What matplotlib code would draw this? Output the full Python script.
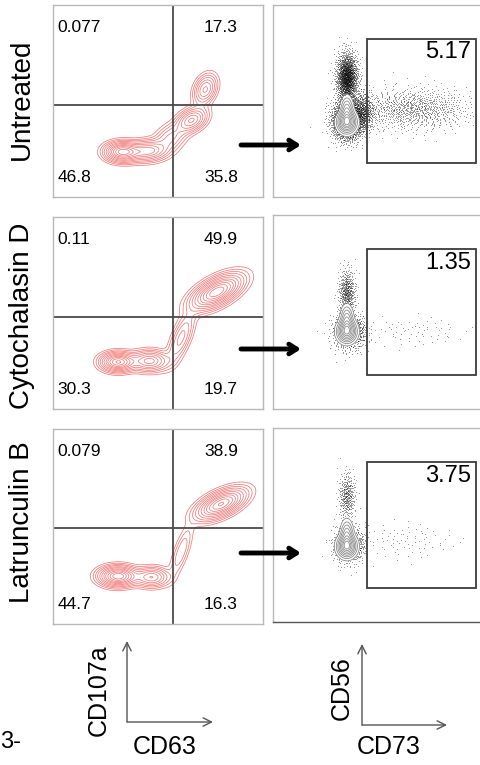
import numpy as np
import matplotlib
matplotlib.use('Agg')
import matplotlib.pyplot as plt
from matplotlib.patches import Rectangle

plt.rcParams['font.family'] = ['Liberation Sans', 'DejaVu Sans']

W, H = 480, 765

# ---- data ----
treatments = ['Untreated', 'Cytochalasin D', 'Latrunculin B']
# quadrant percentages: UL, UR, LL, LR  (CD63 x CD107a)
q_ul = ['0.077', '0.11', '0.079']
q_ur = ['17.3', '49.9', '38.9']
q_ll = ['46.8', '30.3', '44.7']
q_lr = ['35.8', '19.7', '16.3']
# CD73+ gate percentage (CD73 x CD56)
gate_pct = ['5.17', '1.35', '3.75']

# quadrant split positions (axes fraction)
quad_x = [0.57, 0.57, 0.57]
quad_y = [0.48, 0.48, 0.49]

# red populations: cx, cy, sx, sy, angle(deg), weight
red_pops = [
    [(0.33, 0.235, 0.045, 0.028, 0, 1.0),
     (0.45, 0.24, 0.055, 0.03, 5, 0.6),
     (0.56, 0.31, 0.05, 0.035, 40, 0.25),
     (0.66, 0.40, 0.045, 0.03, 35, 0.55),
     (0.725, 0.56, 0.045, 0.028, 70, 0.45)],
    [(0.31, 0.245, 0.045, 0.027, 0, 0.9),
     (0.46, 0.25, 0.05, 0.03, 0, 0.55),
     (0.61, 0.37, 0.08, 0.025, 70, 0.25),
     (0.78, 0.61, 0.075, 0.035, 32, 1.0)],
    [(0.31, 0.245, 0.05, 0.028, 0, 1.0),
     (0.47, 0.24, 0.045, 0.028, 0, 0.5),
     (0.61, 0.37, 0.08, 0.02, 72, 0.15),
     (0.80, 0.615, 0.07, 0.032, 28, 0.9)],
]

# gray CD56/CD73 main population
gray_pops = [
    [(0.35, 0.39, 0.024, 0.03, 0, 1.0), (0.35, 0.45, 0.016, 0.04, 0, 0.45)],
    [(0.35, 0.40, 0.024, 0.03, 0, 1.0), (0.35, 0.46, 0.016, 0.04, 0, 0.45)],
    [(0.35, 0.39, 0.024, 0.03, 0, 1.0), (0.35, 0.45, 0.016, 0.04, 0, 0.45)],
]

# event clouds: cx, cy, sx, sy, n
dot_pops = [
    [(0.35, 0.62, 0.025, 0.065, 1800), (0.35, 0.40, 0.035, 0.05, 2500),
     (0.42, 0.44, 0.03, 0.05, 700), (0.66, 0.46, 0.14, 0.055, 1000)],
    [(0.35, 0.60, 0.02, 0.06, 500), (0.35, 0.40, 0.035, 0.05, 600),
     (0.40, 0.40, 0.025, 0.04, 200), (0.65, 0.40, 0.15, 0.04, 80)],
    [(0.35, 0.65, 0.02, 0.06, 350), (0.35, 0.40, 0.035, 0.05, 500),
     (0.40, 0.40, 0.025, 0.04, 150), (0.62, 0.42, 0.13, 0.05, 90)],
]

gate_box = (0.445, 0.175, 0.962, 0.825)

left_px = [(53, 5, 263, 197), (53, 217, 263, 409), (53, 429, 263, 624)]
right_px = [(273, 5, 484, 197), (273, 215, 484, 409), (273, 428, 484, 622)]
row_label_y = [99, 316, 522]
arrow_y = [145, 349, 553]


def density(X, Y, pops):
    Z = np.zeros_like(X)
    for cx, cy, sx, sy, ang, w in pops:
        a = np.deg2rad(ang)
        dx, dy = X - cx, Y - cy
        u = dx * np.cos(a) + dy * np.sin(a)
        v = -dx * np.sin(a) + dy * np.cos(a)
        Z += w * np.exp(-0.5 * ((u / sx) ** 2 + (v / sy) ** 2))
    return Z


def halton(n, base, start):
    out = np.empty(n)
    for i in range(n):
        f, r, k = 1.0, 0.0, i + start
        while k > 0:
            f /= base
            r += f * (k % base)
            k //= base
        out[i] = r
    return out


def events(cx, cy, sx, sy, n, start, bases):
    u1 = halton(n, bases[0], start + 1)
    u2 = halton(n, bases[1], start + 1)
    r = np.sqrt(-2 * np.log(u1))
    return cx + sx * r * np.cos(2 * np.pi * u2), cy + sy * r * np.sin(2 * np.pi * u2)


def px_axes(fig, box):
    x0, y0, x1, y1 = box
    return fig.add_axes([x0 / W, 1 - y1 / H, (x1 - x0) / W, (y1 - y0) / H])


fig = plt.figure(figsize=(W / 100, H / 100), dpi=100)

gx = np.linspace(0, 1, 300)
GX, GY = np.meshgrid(gx, gx)
rel_levels = np.array([0.03, 0.06, 0.1, 0.15, 0.22, 0.3, 0.4, 0.5, 0.62, 0.75, 0.88])
gray_levels = np.array([0.04, 0.1, 0.18, 0.28, 0.4, 0.55, 0.7, 0.85])
base_pairs = [(2, 3), (3, 5), (2, 5), (5, 7)]

for i in range(3):
    # left: CD63 vs CD107a
    ax = px_axes(fig, left_px[i])
    Z = density(GX, GY, red_pops[i])
    ax.contour(GX, GY, Z, levels=rel_levels * Z.max(), colors='#f27a7a',
               linewidths=0.55)
    ax.axvline(quad_x[i], color='#4a4a4a', lw=1.3)
    ax.axhline(quad_y[i], color='#4a4a4a', lw=1.3)
    fs = 12.5
    ax.text(0.02, 0.885, q_ul[i], fontsize=fs, va='center', ha='left', transform=ax.transAxes)
    ax.text(0.80, 0.885, q_ur[i], fontsize=fs, va='center', ha='center', transform=ax.transAxes)
    ax.text(0.02, 0.10, q_ll[i], fontsize=fs, va='center', ha='left', transform=ax.transAxes)
    ax.text(0.80, 0.10, q_lr[i], fontsize=fs, va='center', ha='center', transform=ax.transAxes)
    ax.set_xlim(0, 1)
    ax.set_ylim(0, 1)
    ax.set_xticks([])
    ax.set_yticks([])
    for s in ax.spines.values():
        s.set_color('#b8b8b8')
        s.set_linewidth(1)

    # right: CD73 vs CD56
    ax = px_axes(fig, right_px[i])
    Zg = density(GX, GY, gray_pops[i])
    lv = gray_levels * Zg.max()
    xs, ys = [], []
    for k, (cx, cy, sx, sy, n) in enumerate(dot_pops[i]):
        ex, ey = events(cx, cy, sx, sy, n, 50 + 3000 * k + 700 * i, base_pairs[k])
        xs.append(ex)
        ys.append(ey)
    xs = np.concatenate(xs)
    ys = np.concatenate(ys)
    keep = (xs > 0.02) & (xs < 0.95) & (ys > 0.05) & (ys < 0.95)
    xs, ys = xs[keep], ys[keep]
    dz = density(xs, ys, gray_pops[i])
    out = dz < lv[0]
    ax.scatter(xs[out], ys[out], s=0.6, c='k', marker='.', linewidths=0)
    ax.contour(GX, GY, Zg, levels=lv, colors='#8a8a8a', linewidths=0.6)
    x0, y0, x1, y1 = gate_box
    ax.add_patch(Rectangle((x0, y0), x1 - x0, y1 - y0, fill=False,
                           edgecolor='#3c3c3c', lw=1.3))
    ax.text(0.94, 0.755, gate_pct[i], fontsize=17, ha='right', va='center',
            transform=ax.transAxes)
    ax.set_xlim(0, 1)
    ax.set_ylim(0, 1)
    ax.set_xticks([])
    ax.set_yticks([])
    for s in ax.spines.values():
        s.set_color('#b8b8b8')
        s.set_linewidth(1)
    if i == 2:
        ax.spines['bottom'].set_color('#555555')

# overlay in pixel coordinates for labels and arrows
ov = fig.add_axes([0, 0, 1, 1])
ov.set_xlim(0, W)
ov.set_ylim(H, 0)
ov.axis('off')
ov.patch.set_alpha(0)

for i, name in enumerate(treatments):
    ov.text(22, row_label_y[i], name, rotation=90, fontsize=20,
            ha='center', va='center')
    ov.annotate('', xy=(301, arrow_y[i]), xytext=(241, arrow_y[i]),
                arrowprops=dict(arrowstyle='->,head_length=0.55,head_width=0.35',
                                lw=3.5, color='k', shrinkA=0, shrinkB=0))

ax_arrow = dict(arrowstyle='->,head_length=0.6,head_width=0.3', lw=1,
                color='#555555', shrinkA=0, shrinkB=0)
ov.annotate('', xy=(127, 641), xytext=(127, 722), arrowprops=ax_arrow)
ov.annotate('', xy=(213, 722), xytext=(127, 722), arrowprops=ax_arrow)
ov.text(99, 690, 'CD107a', rotation=90, fontsize=18, ha='center', va='center')
ov.text(165, 747, 'CD63', fontsize=18, ha='center', va='center')

ov.annotate('', xy=(362, 644), xytext=(362, 725), arrowprops=ax_arrow)
ov.annotate('', xy=(447, 725), xytext=(362, 725), arrowprops=ax_arrow)
ov.text(342, 688, 'CD56', rotation=90, fontsize=18, ha='center', va='center')
ov.text(389, 747, 'CD73', fontsize=18, ha='center', va='center')

ov.text(0, 742, '3-', fontsize=17, ha='left', va='center')

fig.savefig('out.png', dpi=100)
